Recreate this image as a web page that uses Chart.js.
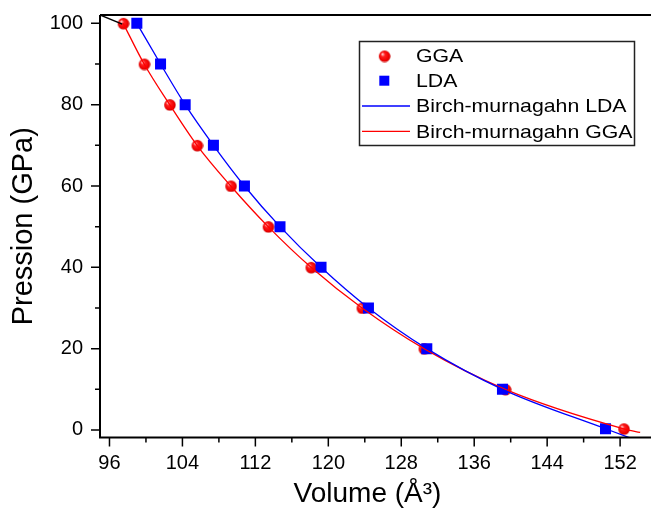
<!DOCTYPE html>
<html>
<head>
<meta charset="utf-8">
<script src="https://cdn.jsdelivr.net/npm/chart.js@4.4.1/dist/chart.umd.min.js"></script>
<style>
  html, body { margin: 0; padding: 0; background: #fff; overflow: hidden; }
  canvas { display: block; }
</style>
</head>
<body>
<canvas id="grafico" width="651" height="508"></canvas>
<script>
// punti calcolati (volume in Å^3, pressione in GPa)
const ggaVolume    = [97.5, 99.8, 102.6, 105.6, 109.3, 113.4, 118.1, 123.7, 130.5, 139.4, 152.4];
const ggaPressione = [100, 90, 80, 70, 60, 50, 40, 30, 20, 10, 0.3];
const ldaVolume    = [99.0, 101.6, 104.3, 107.4, 110.8, 114.7, 119.2, 124.4, 130.8, 139.1, 150.4];
const ldaPressione = [100, 90, 80, 70, 60, 50, 40, 30, 20, 10, 0.3];

// curve di fit Birch-Murnaghan
const bmLdaVolume    = [99.0, 101.6, 104.3, 107.4, 110.8, 114.7, 119.2, 124.4, 130.8, 139.1, 150.4, 154.2];
const bmLdaPressione = [100, 90, 80, 70, 60, 50, 40, 30, 20, 10, 0.3, -2.85];
const bmGgaVolume    = [97.5, 99.8, 102.6, 105.6, 109.3, 113.4, 118.1, 123.7, 130.5, 139.4, 152.4, 154.2];
const bmGgaPressione = [100, 90, 80, 70, 60, 50, 40, 30, 20, 10, 0.3, -0.6];
// tratto nero in alto a sinistra
const codaVolume    = [94.96, 97.4];
const codaPressione = [102.05, 99.8];

const xTicks = [96, 104, 112, 120, 128, 136, 144, 152];
const xMinori = [100, 108, 116, 124, 132, 140, 148];
const yTicks = [0, 20, 40, 60, 80, 100];
const yMinori = [10, 30, 50, 70, 90];

const FONT = "'Liberation Sans', Arial, sans-serif";
// le curve possono uscire un po' a destra dell'area (fino al bordo)
const CLIP = { left: 0, top: 0, right: 6, bottom: 0 };

function punti(xs, ys) {
  return xs.map((x, i) => ({ x: x, y: ys[i] }));
}

// pallina rossa con riflesso
function creaSfera(r) {
  const c = document.createElement('canvas');
  c.width = c.height = 2 * r + 2;
  const g = c.getContext('2d');
  const cx = r + 1, cy = r + 1;
  const grad = g.createRadialGradient(cx - r * 0.4, cy - r * 0.4, 0.5, cx, cy, r);
  grad.addColorStop(0, '#ffd0d0');
  grad.addColorStop(0.3, '#ff2020');
  grad.addColorStop(0.8, '#f00000');
  grad.addColorStop(1, '#c80000');
  g.fillStyle = grad;
  g.beginPath();
  g.arc(cx, cy, r, 0, Math.PI * 2);
  g.fill();
  return c;
}
const sfera = creaSfera(5.8);

// assi, tacche e legenda
const cornice = {
  id: 'cornice',
  afterDatasetsDraw(chart) {
    const ctx = chart.ctx;
    const a = chart.chartArea;
    const destra = chart.width;
    const xs = chart.scales.x, ys = chart.scales.y;
    ctx.save();
    ctx.strokeStyle = '#000';
    ctx.lineWidth = 2;
    ctx.beginPath();
    ctx.moveTo(a.left, a.top);
    ctx.lineTo(destra, a.top);
    ctx.moveTo(a.left, a.top);
    ctx.lineTo(a.left, a.bottom);
    ctx.lineTo(destra, a.bottom);
    ctx.stroke();

    ctx.lineWidth = 1.5;
    ctx.beginPath();
    yTicks.forEach(v => { const p = ys.getPixelForValue(v); ctx.moveTo(a.left, p); ctx.lineTo(a.left - 9, p); });
    yMinori.forEach(v => { const p = ys.getPixelForValue(v); ctx.moveTo(a.left, p); ctx.lineTo(a.left - 5, p); });
    xTicks.forEach(v => { const p = xs.getPixelForValue(v); ctx.moveTo(p, a.bottom); ctx.lineTo(p, a.bottom + 9); });
    xMinori.forEach(v => { const p = xs.getPixelForValue(v); ctx.moveTo(p, a.bottom); ctx.lineTo(p, a.bottom + 5); });
    ctx.stroke();

    // legenda
    const lx = 359.5, ly = 41.5, lw = 275, lh = 104;
    ctx.lineWidth = 1.5;
    ctx.strokeStyle = '#222';
    ctx.strokeRect(lx, ly, lw, lh);
    const righe = [56, 80.7, 106, 131.3];
    const voci = [
      { testo: 'GGA', tipo: 'sfera' },
      { testo: 'LDA', tipo: 'quadro' },
      { testo: 'Birch-murnagahn LDA', tipo: 'linea', colore: '#0000ff' },
      { testo: 'Birch-murnagahn GGA', tipo: 'linea', colore: '#ff0000' }
    ];
    voci.forEach((v, i) => {
      const y = righe[i];
      if (v.tipo === 'sfera') {
        ctx.drawImage(sfera, 384.3 - sfera.width / 2, y - sfera.height / 2);
      } else if (v.tipo === 'quadro') {
        ctx.fillStyle = '#0000ff';
        ctx.fillRect(384.3 - 5, y - 5, 10, 10);
      } else {
        ctx.strokeStyle = v.colore;
        ctx.lineWidth = 1.3;
        ctx.beginPath();
        ctx.moveTo(362, y);
        ctx.lineTo(410, y);
        ctx.stroke();
      }
      ctx.save();
      ctx.translate(416, y + 1);
      ctx.scale(1.12, 1);
      ctx.fillStyle = '#000';
      ctx.font = '19px ' + FONT;
      ctx.textBaseline = 'middle';
      ctx.fillText(v.testo, 0, 0);
      ctx.restore();
    });
    ctx.restore();
  }
};

const ctx = document.getElementById('grafico').getContext('2d');
const grafico = new Chart(ctx, {
  type: 'scatter',
  data: {
    datasets: [
      {
        label: 'Birch-murnagahn LDA',
        data: punti(bmLdaVolume, bmLdaPressione),
        showLine: true,
        borderColor: '#0000ff',
        borderWidth: 1.3,
        pointRadius: 0,
        cubicInterpolationMode: 'monotone',
        clip: CLIP
      },
      {
        label: 'Birch-murnagahn GGA',
        data: punti(bmGgaVolume, bmGgaPressione),
        showLine: true,
        borderColor: '#ff0000',
        borderWidth: 1.3,
        pointRadius: 0,
        cubicInterpolationMode: 'monotone',
        clip: CLIP
      },
      {
        label: 'coda',
        data: punti(codaVolume, codaPressione),
        showLine: true,
        borderColor: '#000',
        borderWidth: 1.5,
        pointRadius: 0
      },
      {
        label: 'LDA',
        data: punti(ldaVolume, ldaPressione),
        pointStyle: 'rect',
        pointRadius: 7.8,
        backgroundColor: '#0000ff',
        borderWidth: 0
      },
      {
        label: 'GGA',
        data: punti(ggaVolume, ggaPressione),
        pointStyle: sfera,
        pointRadius: 6
      }
    ]
  },
  options: {
    responsive: false,
    animation: false,
    layout: { padding: { top: 15, right: 0, left: 0, bottom: 0 } },
    plugins: {
      legend: { display: false },
      tooltip: { enabled: false }
    },
    scales: {
      x: {
        type: 'linear',
        min: 94.96,
        max: 153.64,
        afterBuildTicks: s => { s.ticks = xTicks.map(v => ({ value: v })); },
        afterFit: s => { s.height = 70.5; },
        grid: { display: false, drawTicks: false },
        border: { display: false },
        ticks: { color: '#000', font: { family: FONT, size: 20 }, padding: 14 },
        title: {
          display: true,
          text: 'Volume (Å³)',
          color: '#000',
          font: { family: FONT, size: 28, lineHeight: 1 },
          padding: { top: 0, bottom: 0 }
        }
      },
      y: {
        type: 'linear',
        min: -1.85,
        max: 102.05,
        afterBuildTicks: s => { s.ticks = yTicks.map(v => ({ value: v })); },
        afterFit: s => { s.width = 100; s.paddingTop = 0; s.paddingBottom = 0; },
        grid: { display: false, drawTicks: false },
        border: { display: false },
        ticks: { color: '#000', font: { family: FONT, size: 20 }, padding: 17 },
        title: {
          display: true,
          text: 'Pression (GPa)',
          color: '#000',
          font: { family: FONT, size: 29, lineHeight: 1 },
          padding: { top: 9.5, bottom: 0 }
        }
      }
    }
  },
  plugins: [cornice]
});
</script>
</body>
</html>
